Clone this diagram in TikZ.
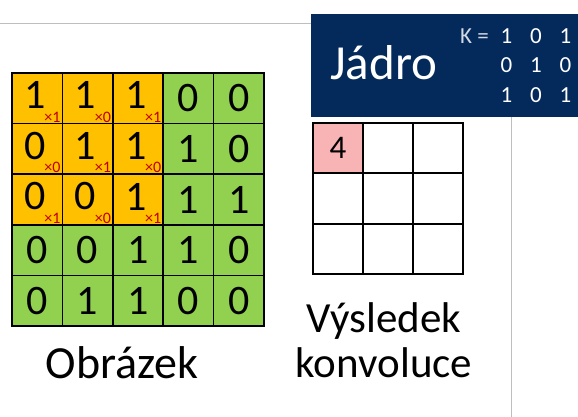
\documentclass[tikz,border=0pt]{standalone}
\usepackage{fontspec}
\setmainfont{Carlito}

\definecolor{pixorange}{RGB}{255,192,0}
\definecolor{pixgreen}{RGB}{146,208,80}
\definecolor{weightred}{RGB}{192,0,0}
\definecolor{panelblue}{RGB}{4,42,92}
\definecolor{outpink}{RGB}{248,180,180}
\definecolor{rulegray}{RGB}{190,190,190}

\tikzset{
  pixel/.style={draw=black, line width=1.6pt, minimum size=50.4pt, inner sep=0pt,
    font=\fontsize{42}{46}\selectfont},
  pixdigit/.style={inner sep=0pt, font=\fontsize{42}{46}\selectfont},
  outcell/.style={draw=black, line width=1.6pt, minimum size=50pt, inner sep=0pt,
    font=\fontsize{33}{38}\selectfont},
  weight/.style={anchor=base east, inner sep=0pt, text=weightred,
    font=\fontsize{16}{18}\selectfont},
  kdigit/.style={anchor=base, inner sep=0pt, text=white,
    font=\fontsize{23}{27}\selectfont},
  caption/.style={anchor=base, inner sep=0pt, align=center},
}

\begin{document}
\begin{tikzpicture}[x=1pt, y=-1pt]

  %% thin rules
  \draw[rulegray, line width=0.8pt] (0,23) -- (311,23);
  \draw[rulegray, line width=0.8pt] (511,117) -- (511,417);

  %% kernel panel
  \fill[panelblue] (311,14) rectangle (578,117);
  \node[anchor=base west, inner sep=0pt, text=white, font=\fontsize{49}{56}\selectfont]
    (jadro) at (330,80) {Jádro};
  \node[anchor=base east, inner sep=0pt, text=white!82!panelblue, font=\fontsize{23}{27}\selectfont]
    (klabel) at (489,44) {K =};
  \foreach \krow [count=\r] in {{1,0,1},{0,1,0},{1,0,1}}
    \foreach \v [count=\c] in \krow
      \node[kdigit] (k-\r-\c) at (477+29.5*\c, 14+29.5*\r) {\v};

  %% input image 5x5 (orange = kernel window)
  \foreach \prow [count=\r] in {{1,1,1,0,0},{0,1,1,1,0},{0,0,1,1,1},{0,0,1,1,0},{0,1,1,0,0}}
    \foreach \v [count=\c] in \prow {
      \ifnum\r<4 \ifnum\c<4 \def\inwin{1}\else\def\inwin{0}\fi\else\def\inwin{0}\fi
      \ifnum\inwin=1
        \node[pixel, fill=pixorange] (p-\r-\c) at (12+50.4*\c-25.2, 73+50.6*\r-25.3) {};
        \node[pixdigit] (d-\r-\c) at ([xshift=-2pt, yshift=3pt]p-\r-\c.center) {\v};
      \else
        \node[pixel, fill=pixgreen] (p-\r-\c) at (12+50.4*\c-25.2, 73+50.6*\r-25.3) {\v};
      \fi
    }

  %% kernel weights on the orange window
  \foreach \w [count=\i from 0] in {1,0,1,0,1,0,1,0,1} {
    \pgfmathtruncatemacro{\wr}{int(\i/3)+1}
    \pgfmathtruncatemacro{\wc}{mod(\i,3)+1}
    \node[weight] (w-\wr-\wc) at ([xshift=-2.5pt, yshift=2pt]p-\wr-\wc.south east) {×\w};
  }

  %% output 3x3
  \foreach \r in {1,2,3}
    \foreach \c in {1,2,3}
      \node[outcell] (o-\r-\c) at (313+50*\c-25, 123+50.3*\r-25.15) {};
  \node[outcell, fill=outpink] (o-1-1) at (338,148.15) {4};

  %% captions
  \node[caption, font=\fontsize{46}{50}\selectfont] (obrazek) at (122,378) {Obrázek};
  \node[caption, font=\fontsize{43}{45}\selectfont] (vysledek) at (384,377) {Výsledek\\konvoluce};

  \pgfresetboundingbox
  \path[use as bounding box] (0,0) rectangle (578,417);
\end{tikzpicture}
\end{document}
